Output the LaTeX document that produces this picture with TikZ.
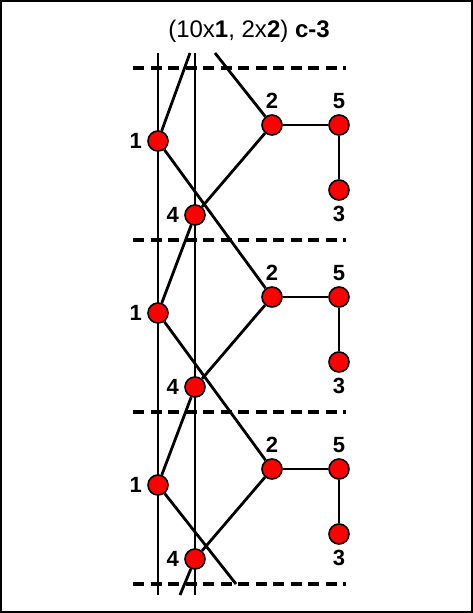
\documentclass[tikz,border=0pt]{standalone}
\usepackage{fontspec}
\setmainfont{Liberation Sans}

\begin{document}
\begin{tikzpicture}[x=1pt, y=-1pt, line width=2.8pt,
    atom/.style={circle, draw=black, line width=1.6pt, fill=red,
      minimum size=20pt, inner sep=0pt},
    lbl/.style={font=\fontsize{22}{22}\selectfont\bfseries, inner sep=4pt},
    cellcut/.style={line width=3.3pt, dash pattern=on 11pt off 6.5pt}]
  \useasboundingbox (0,0) rectangle (473,613);
  \draw[line width=2.5pt] (1.2,1.2) rectangle (471.8,611.8);

  \node[font=\fontsize{24}{24}\selectfont] (title) at (249,31)
    {(10x\textbf{1}, 2x\textbf{2}) \textbf{c-3}};

  % cell boundaries
  \foreach \k in {0,1,2,3}
    \draw[cellcut] (133,68+172*\k) -- (346,68+172*\k);

  % the two vertical lines
  \coordinate (topA) at (158,53);  \coordinate (botA) at (158,595);
  \coordinate (topB) at (195,53);  \coordinate (botB) at (195,595);
  \draw (topA) -- (botA);
  \draw (topB) -- (botB);

  % atoms of the three cells
  \foreach \i in {0,1,2} {
    \node[atom, label={[lbl]left:1}]  (one\i)   at (158,141+172*\i) {};
    \node[atom, label={[lbl]left:4}]  (four\i)  at (195,215+172*\i) {};
    \node[atom, label={[lbl]above:2}] (two\i)   at (272,125+172*\i) {};
    \node[atom, label={[lbl]above:5}] (five\i)  at (339,125+172*\i) {};
    \node[atom, label={[lbl]below:3}] (three\i) at (339,190+172*\i) {};
    \draw (four\i) -- (two\i);
    \draw (two\i) -- (five\i);
    \draw (five\i) -- (three\i);
  }

  % bonds between cells
  \draw (one0) -- (two1);
  \draw (one1) -- (two2);
  \draw (four0) -- (one1);
  \draw (four1) -- (one2);

  % bonds cut by the top and bottom
  \coordinate (upL) at (190,53);
  \coordinate (upR) at (215,53);
  \coordinate (lowL) at (180,595);
  \coordinate (lowR) at (236,584);
  \draw (one0) -- (upL);
  \draw (upR) -- (two0);
  \draw (four2) -- (lowL);
  \draw (one2) -- (lowR);
\end{tikzpicture}
\end{document}
